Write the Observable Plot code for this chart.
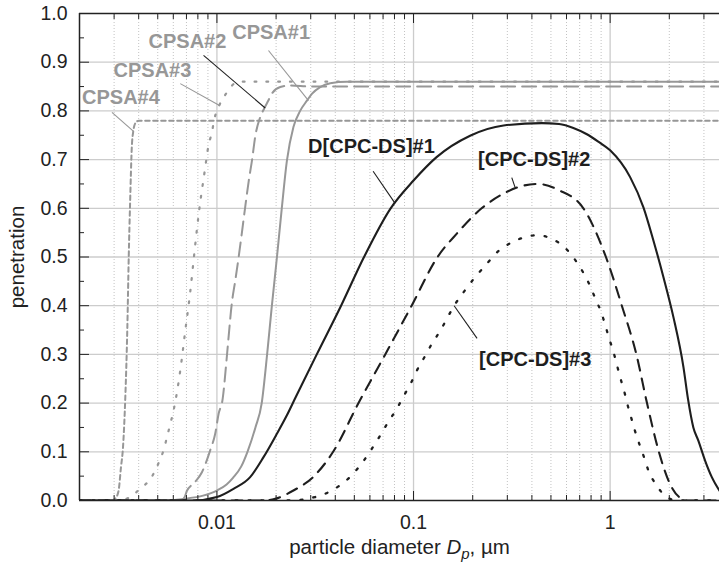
<!DOCTYPE html>
<html>
<head>
<meta charset="utf-8">
<script src="https://cdn.jsdelivr.net/npm/d3@7"></script>
<script src="https://cdn.jsdelivr.net/npm/@observablehq/plot@0.6"></script>
<style>
  html, body { margin: 0; padding: 0; background: #fff; }
  #chart svg { display: block; }
</style>
</head>
<body>
<div id="chart"></div>
<script>
// ---------- data ----------
const xCPSA1 = [0.002, 0.0055, 0.0068, 0.0085, 0.01, 0.0112, 0.0121, 0.0133, 0.0143, 0.0157, 0.0169, 0.018, 0.019, 0.0202, 0.0214, 0.0227, 0.0245, 0.0265, 0.0287, 0.0304, 0.0335, 0.0377, 0.0458, 3.6];
const yCPSA1 = [0, 0, 0.0035, 0.01, 0.0205, 0.033, 0.047, 0.07, 0.1, 0.15, 0.2, 0.3, 0.397, 0.5, 0.602, 0.698, 0.767, 0.8, 0.821, 0.835, 0.849, 0.857, 0.86, 0.86];

const xCPSA2 = [0.002, 0.0062, 0.0068, 0.00704, 0.0077, 0.00839, 0.00924, 0.0098, 0.0102, 0.0107, 0.01115, 0.01146, 0.0119, 0.0124, 0.0129, 0.0134, 0.0139, 0.0145, 0.0151, 0.0157, 0.0166, 0.0174, 0.0183, 0.019, 0.021, 0.0236, 0.03, 3.6];
const yCPSA2 = [0, 0, 0.005, 0.02, 0.037, 0.058, 0.103, 0.137, 0.178, 0.209, 0.281, 0.335, 0.404, 0.452, 0.5, 0.55, 0.6, 0.655, 0.7, 0.75, 0.787, 0.805, 0.822, 0.835, 0.849, 0.852, 0.85, 0.85];

const xCPSA3 = [0.002, 0.0032, 0.00355, 0.00407, 0.00467, 0.00505, 0.00535, 0.00557, 0.00579, 0.00602, 0.00651, 0.0069, 0.00732, 0.00769, 0.0081, 0.00865, 0.00906, 0.00943, 0.00969, 0.01027, 0.01115, 0.0125, 0.0135, 3.6];
const yCPSA3 = [0, 0, 0.0055, 0.024, 0.049, 0.077, 0.103, 0.13, 0.157, 0.185, 0.267, 0.348, 0.429, 0.511, 0.592, 0.674, 0.729, 0.756, 0.782, 0.811, 0.836, 0.858, 0.86, 0.86];

const xCPSA4 = [0.002, 0.0029, 0.00304, 0.00316, 0.00325, 0.00333, 0.00342, 0.0035, 0.00356, 0.00362, 0.00369, 0.00376, 0.00385, 0.004, 3.6];
const yCPSA4 = [0, 0, 0.004, 0.02, 0.068, 0.11, 0.212, 0.35, 0.5, 0.616, 0.725, 0.76, 0.775, 0.78, 0.78];

const xDS1 = [0.002, 0.0076, 0.01, 0.01214, 0.01476, 0.01726, 0.02018, 0.02269, 0.025, 0.0322, 0.0428, 0.056, 0.0765, 0.1, 0.131, 0.194, 0.287, 0.45, 0.55, 0.65, 0.762, 0.87, 1.0, 1.264, 1.477, 1.66, 1.866, 2.1, 2.36, 2.49, 2.65, 2.81, 3.04, 3.29, 3.6];
const yDS1 = [0, 0, 0.007, 0.024, 0.048, 0.089, 0.137, 0.175, 0.21, 0.3, 0.4, 0.5, 0.6, 0.657, 0.705, 0.749, 0.77, 0.775, 0.773, 0.765, 0.752, 0.737, 0.719, 0.664, 0.602, 0.534, 0.459, 0.376, 0.274, 0.208, 0.15, 0.123, 0.082, 0.048, 0.02];

const xDS2 = [0.002, 0.0172, 0.0198, 0.0245, 0.031, 0.039, 0.0525, 0.0718, 0.0978, 0.1325, 0.166, 0.222, 0.2865, 0.35, 0.43, 0.55, 0.731, 0.952, 1.147, 1.36, 1.54, 1.77, 1.98, 2.27, 2.48, 3.6];
const yDS2 = [0, 0, 0.0035, 0.0205, 0.049, 0.1, 0.2, 0.3, 0.4, 0.5, 0.548, 0.6, 0.63, 0.645, 0.65, 0.637, 0.6, 0.5, 0.4, 0.3, 0.2, 0.1, 0.041, 0.0055, 0, 0];

const xDS3 = [0.002, 0.0227, 0.0265, 0.0304, 0.0356, 0.0415, 0.048, 0.0552, 0.0613, 0.0676, 0.0743, 0.0821, 0.089, 0.097, 0.104, 0.115, 0.124, 0.137, 0.149, 0.161, 0.183, 0.206, 0.236, 0.27, 0.316, 0.37, 0.43, 0.505, 0.579, 0.664, 0.732, 0.79, 0.846, 0.9, 0.946, 0.99, 1.04, 1.085, 1.13, 1.18, 1.22, 1.28, 1.34, 1.41, 1.49, 1.57, 1.71, 1.9, 2.2, 3.6];
const yDS3 = [0, 0, 0.0014, 0.0055, 0.014, 0.029, 0.05, 0.079, 0.106, 0.133, 0.161, 0.188, 0.214, 0.241, 0.267, 0.298, 0.322, 0.349, 0.376, 0.4, 0.432, 0.459, 0.486, 0.512, 0.53, 0.541, 0.545, 0.537, 0.522, 0.494, 0.467, 0.441, 0.412, 0.387, 0.359, 0.332, 0.305, 0.277, 0.25, 0.224, 0.2, 0.17, 0.142, 0.115, 0.088, 0.06, 0.033, 0.01, 0, 0];

// curve labels and their leader lines (data units)
const labelNames = ["CPSA#1", "CPSA#2", "CPSA#3", "CPSA#4", "D[CPC-DS]#1", "[CPC-DS]#2", "[CPC-DS]#3"];
const labelX = [0.01196, 0.00449, 0.00298, 0.00206, 0.0291, 0.213, 0.2156];
const labelY = [0.961, 0.9425, 0.883, 0.8265, 0.726, 0.700, 0.2895];
const leaderX1 = [0.01829, 0.00855, 0.00651, 0.002925, 0.0623, 0.316, 0.1609];
const leaderY1 = [0.924, 0.914, 0.856, 0.797, 0.676, 0.663, 0.400];
const leaderX2 = [0.02922, 0.0176, 0.01031, 0.003767, 0.0806, 0.3285, 0.2105];
const leaderY2 = [0.821, 0.806, 0.811, 0.758, 0.61, 0.643, 0.333];

// axes
const xTickValues = [0.01, 0.1, 1];
const xTickLabels = ["0.01", "0.1", "1"];
const xMinor = [0.002, 0.003, 0.004, 0.005, 0.006, 0.007, 0.008, 0.009, 0.02, 0.03, 0.04, 0.05, 0.06, 0.07, 0.08, 0.09, 0.2, 0.3, 0.4, 0.5, 0.6, 0.7, 0.8, 0.9, 2, 3];
const yTickValues = [0, 0.1, 0.2, 0.3, 0.4, 0.5, 0.6, 0.7, 0.8, 0.9, 1.0];
const yTickLabels = ["0.0", "0.1", "0.2", "0.3", "0.4", "0.5", "0.6", "0.7", "0.8", "0.9", "1.0"];
const yMinor = [0.05, 0.15, 0.25, 0.35, 0.45, 0.55, 0.65, 0.75, 0.85, 0.95];
const yGrid = [0.1, 0.2, 0.3, 0.4, 0.5, 0.6, 0.7, 0.8, 0.9];
const xLabel = "particle diameter Dp, µm";
const yLabel = "penetration";

// ---------- build ----------
const toRows = (xs, ys) => xs.map((x, i) => ({x, y: ys[i]}));
const GRAY = "#979797", BLACK = "#1e1e1e";
const FONT = "'Liberation Sans', Arial, Helvetica, sans-serif";
const X0 = 0.002;

const series = [
  {rows: toRows(xCPSA4, yCPSA4), stroke: GRAY, w: 2, dash: "4.5,3.5"},
  {rows: toRows(xCPSA3, yCPSA3), stroke: GRAY, w: 2.2, dash: "1.8,10"},
  {rows: toRows(xCPSA2, yCPSA2), stroke: GRAY, w: 2, dash: "14,7"},
  {rows: toRows(xCPSA1, yCPSA1), stroke: GRAY, w: 2, dash: null},
  {rows: toRows(xDS3, yDS3), stroke: BLACK, w: 2.3, dash: "2,11"},
  {rows: toRows(xDS2, yDS2), stroke: BLACK, w: 2.1, dash: "11,8"},
  {rows: toRows(xDS1, yDS1), stroke: BLACK, w: 2.1, dash: null}
];

const labels = labelNames.map((name, i) => ({
  name, x: labelX[i], y: labelY[i],
  x1: leaderX1[i], y1: leaderY1[i], x2: leaderX2[i], y2: leaderY2[i],
  group: name.startsWith("CPSA") ? "cpsa" : "ds",
  leaderDark: name === "CPSA#2" || !name.startsWith("CPSA")
}));

const xTicks = xTickValues.map((v, i) => ({v, label: xTickLabels[i]}));
const yTicks = yTickValues.map((v, i) => ({v, label: yTickLabels[i]}));

const chart = Plot.plot({
  width: 719,
  height: 566,
  marginTop: 13,
  marginLeft: 79,
  marginRight: 0,
  marginBottom: 66,
  style: {fontFamily: FONT, fontSize: "19.5px", color: "#222", background: "#fff"},
  x: {type: "log", domain: [X0, 3.6], axis: null},
  y: {domain: [0, 1], axis: null},
  marks: [
    // grid
    Plot.ruleX(xMinor, {stroke: "#b4b4b4", strokeWidth: 0.8, strokeDasharray: "1,2"}),
    Plot.ruleX(xTickValues, {stroke: "#cccccc", strokeWidth: 1.3}),
    Plot.ruleY(yGrid, {stroke: "#cccccc", strokeWidth: 1.3}),
    // curves
    ...series.map(s => Plot.line(s.rows, {
      x: "x", y: "y", stroke: s.stroke, strokeWidth: s.w,
      strokeDasharray: s.dash, curve: "monotone-x", clip: true
    })),
    // leaders
    Plot.link(labels, {x1: "x1", y1: "y1", x2: "x2", y2: "y2",
      stroke: d => d.leaderDark ? BLACK : GRAY, strokeWidth: 1.1}),
    // curve labels
    Plot.text(labels, {x: "x", y: "y", text: "name", textAnchor: "start", lineAnchor: "middle",
      fill: d => d.group === "cpsa" ? GRAY : BLACK, fontWeight: "bold", fontSize: 20}),
    // frame
    Plot.ruleY([0, 1], {stroke: "#222", strokeWidth: 1.5}),
    Plot.ruleX([X0], {stroke: "#222", strokeWidth: 1.5}),
    // inward ticks
    Plot.axisX({anchor: "bottom", ticks: xTickValues, tickSize: -9, fill: "none", label: null, stroke: "#222"}),
    Plot.axisX({anchor: "bottom", ticks: xMinor, tickSize: -5, fill: "none", label: null, stroke: "#222"}),
    Plot.axisX({anchor: "top", ticks: xTickValues, tickSize: -9, fill: "none", label: null, stroke: "#222"}),
    Plot.axisX({anchor: "top", ticks: xMinor, tickSize: -5, fill: "none", label: null, stroke: "#222"}),
    Plot.axisY({anchor: "left", ticks: yTickValues, tickSize: -10, fill: "none", label: null, stroke: "#222"}),
    Plot.axisY({anchor: "left", ticks: yMinor, tickSize: -5, fill: "none", label: null, stroke: "#222"}),
    // tick labels
    Plot.text(xTicks, {x: "v", y: 0, dy: 15, text: "label", textAnchor: "middle", lineAnchor: "top",
      fontSize: 19.5, fill: "#222"}),
    Plot.text(yTicks, {x: X0, y: "v", dx: -12, text: "label", textAnchor: "end", lineAnchor: "middle",
      fontSize: 19.5, fill: "#222"}),
    // axis titles
    Plot.text([xLabel], {frameAnchor: "bottom", dy: 46.5, textAnchor: "middle", lineAnchor: "middle", text: d => d, fontSize: 20.5, fill: "#222"}),
    Plot.text([yLabel], {frameAnchor: "left", dx: -62, textAnchor: "middle", rotate: -90, lineAnchor: "middle", text: d => d, fontSize: 20.5, fill: "#222"})
  ]
});

// italic D with subscript p in the x-axis title
chart.querySelectorAll("text").forEach(t => {
  if (t.textContent === xLabel) {
    t.textContent = "";
    const ns = "http://www.w3.org/2000/svg";
    const add = (txt, attrs) => {
      const s = document.createElementNS(ns, "tspan");
      s.textContent = txt;
      for (const k in attrs) s.setAttribute(k, attrs[k]);
      t.appendChild(s);
    };
    add("particle diameter ", {});
    add("D", {"font-style": "italic"});
    add("p", {"font-style": "italic", "font-size": "15", "dy": "5"});
    add(", µm", {"dy": "-5"});
  }
});

document.getElementById("chart").appendChild(chart);
</script>
</body>
</html>
